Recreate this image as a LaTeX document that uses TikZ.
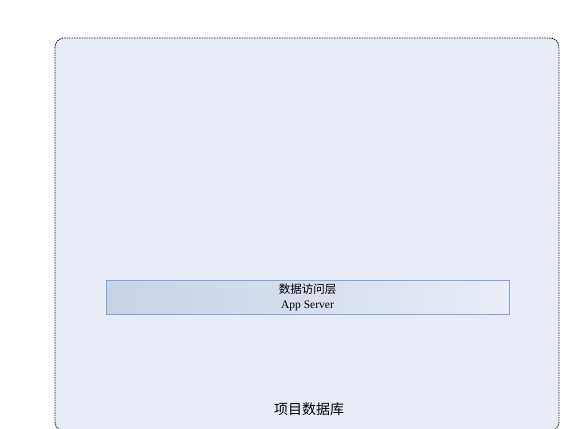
\documentclass[tikz,border=0pt]{standalone}
\usepackage{fontspec}
\setmainfont{Liberation Serif}
\newfontfamily\cjk{Noto Sans CJK SC}
\definecolor{dbfill}{HTML}{E8ECF6}
\definecolor{dalleft}{HTML}{C6D2E5}
\definecolor{dalright}{HTML}{E8EDF7}
\definecolor{dalline}{HTML}{7FA6D8}
\tikzset{
  dbbox/.style={draw=black!90, dash pattern=on 1.6pt off 0.9pt, fill=dbfill, rounded corners=9pt, line width=0.8pt},
  dalbox/.style={draw=dalline, left color=dalleft, right color=dalright, line width=0.7pt},
}
\begin{document}
\begin{tikzpicture}[x=1pt,y=-1pt]
\useasboundingbox (0,0) rectangle (566,429);

% Outer box
\draw [dbbox] (55,38) rectangle (559,431);
\node (db) at (309,409) {\fontsize{14}{16}\selectfont\cjk 项目数据库};

% Access layer
\node [dalbox, minimum width=403pt, minimum height=34pt, inner sep=0pt, align=center,
       font=\fontsize{11.5}{15}\selectfont] (dal) at (307.5,297) {{\cjk\fontsize{11.5}{15}\selectfont 数据访问层}\\App Server};
\end{tikzpicture}
\end{document}
